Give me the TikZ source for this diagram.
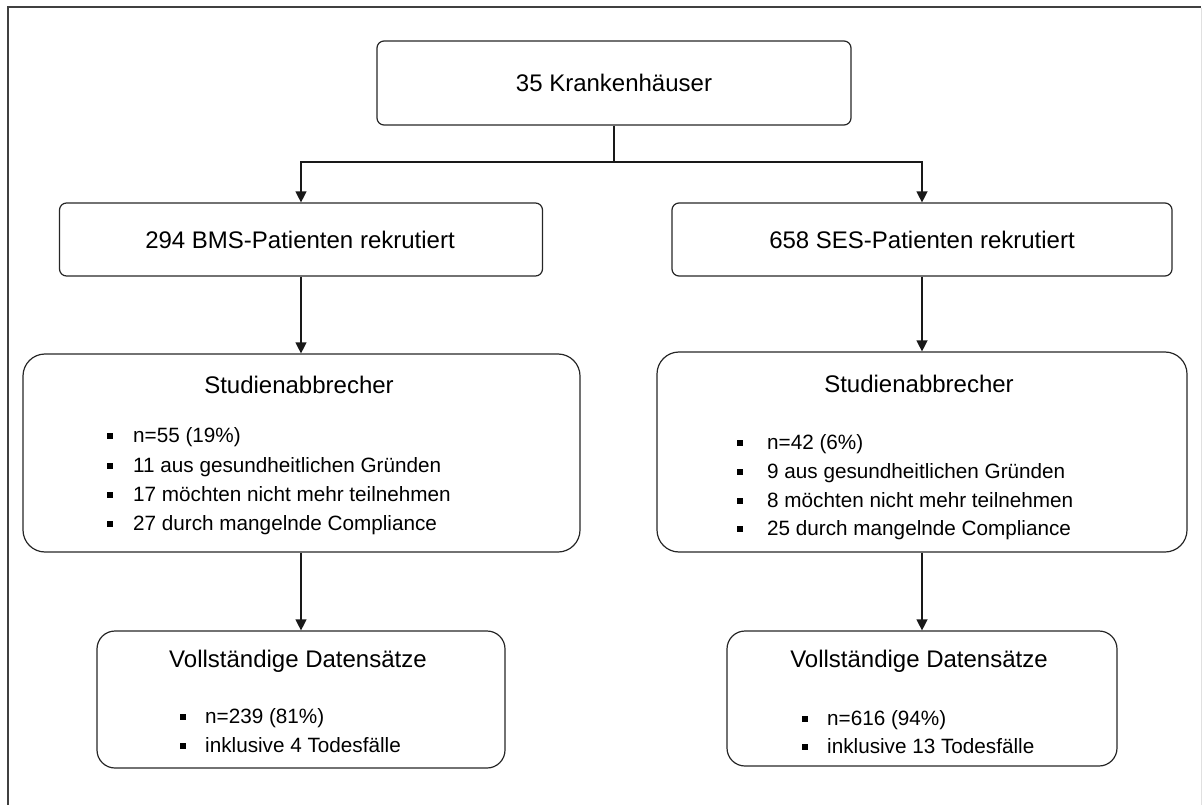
\documentclass[tikz,border=0pt]{standalone}
\usepackage{fontspec}
\setmainfont{Liberation Sans}
\usetikzlibrary{arrows.meta}
\begin{document}
\begin{tikzpicture}[x=1pt,y=-1pt,
  box/.style={draw=black!85, line width=1.2pt, inner sep=0pt},
  title/.style={anchor=base, inner sep=0pt, font=\fontsize{24}{28}\selectfont},
  item/.style={anchor=base west, inner sep=0pt, font=\fontsize{20.7}{24}\selectfont},
  bul/.style={fill=black, minimum size=6pt, inner sep=0pt},
  line/.style={line width=1.3pt, black!90},
  conn/.style={line, -{Triangle[length=11pt,width=11pt]}}]
\useasboundingbox (0,0) rectangle (1202,805);
% frame
\draw[line width=2pt, black!75] (8,805) -- (8,7) -- (1201,7);
\draw[line width=1pt, black!12] (1201,8) -- (1201,805);

% boxes
\node[box, rounded corners=7pt, minimum width=474pt, minimum height=84pt] (top) at (614,83) {};
\node[box, rounded corners=7pt, minimum width=483pt, minimum height=73pt] (bms) at (301,239.5) {};
\node[box, rounded corners=7pt, minimum width=500pt, minimum height=73pt] (ses) at (922,239.5) {};
\node[box, rounded corners=22pt, minimum width=557pt, minimum height=198pt] (sa1) at (301.5,453) {};
\node[box, rounded corners=22pt, minimum width=530pt, minimum height=200pt] (sa2) at (922,452) {};
\node[box, rounded corners=18pt, minimum width=408pt, minimum height=137pt] (vd1) at (301,699.5) {};
\node[box, rounded corners=18pt, minimum width=390pt, minimum height=135pt] (vd2) at (922,698.5) {};

% texts
\node[title] (ttop) at (614,92) {35 Krankenhäuser};
\node[title] (tbms) at (300,248) {294 BMS-Patienten rekrutiert};
\node[title] (tses) at (922,248) {658 SES-Patienten rekrutiert};
\node[title] (tsa1) at (299,393) {Studienabbrecher};
\node[title] (tsa2) at (919,392) {Studienabbrecher};
\node[title] (tvd1) at (298,667) {Vollständige Datensätze};
\node[title] (tvd2) at (919,667) {Vollständige Datensätze};

% left drop-outs
\node[bul] (b11) at (110,436) {};
\node[item] (i11) at (133,442) {n=55 (19\%)};
\node[bul] (b12) at (110,466) {};
\node[item] (i12) at (133,472) {11 aus gesundheitlichen Gründen};
\node[bul] (b13) at (110,495) {};
\node[item] (i13) at (133,501) {17 möchten nicht mehr teilnehmen};
\node[bul] (b14) at (110,524) {};
\node[item] (i14) at (133,530) {27 durch mangelnde Compliance};

% right drop-outs
\node[bul] (b21) at (740,443) {};
\node[item] (i21) at (767,449) {n=42 (6\%)};
\node[bul] (b22) at (740,472) {};
\node[item] (i22) at (767,478) {9 aus gesundheitlichen Gründen};
\node[bul] (b23) at (740,501) {};
\node[item] (i23) at (767,507) {8 möchten nicht mehr teilnehmen};
\node[bul] (b24) at (740,529) {};
\node[item] (i24) at (767,535) {25 durch mangelnde Compliance};

% complete data
\node[bul] (c11) at (183,717) {};
\node[item] (j11) at (205,723) {n=239 (81\%)};
\node[bul] (c12) at (183,746) {};
\node[item] (j12) at (205,752) {inklusive 4 Todesfälle};
\node[bul] (c21) at (805,719) {};
\node[item] (j21) at (827,725) {n=616 (94\%)};
\node[bul] (c22) at (805,747) {};
\node[item] (j22) at (827,753) {inklusive 13 Todesfälle};

% connectors
\coordinate (split) at (614,162);
\draw[line] (top.south) -- (split);
\draw[conn] (split) -| (bms.north);
\draw[conn] (split) -| (ses.north);
\draw[conn] (bms.south) -- (bms.south |- sa1.north);
\draw[conn] (ses.south) -- (ses.south |- sa2.north);
\draw[conn] (bms.south |- sa1.south) -- (bms.south |- vd1.north);
\draw[conn] (sa2.south) -- (sa2.south |- vd2.north);
\end{tikzpicture}
\end{document}
